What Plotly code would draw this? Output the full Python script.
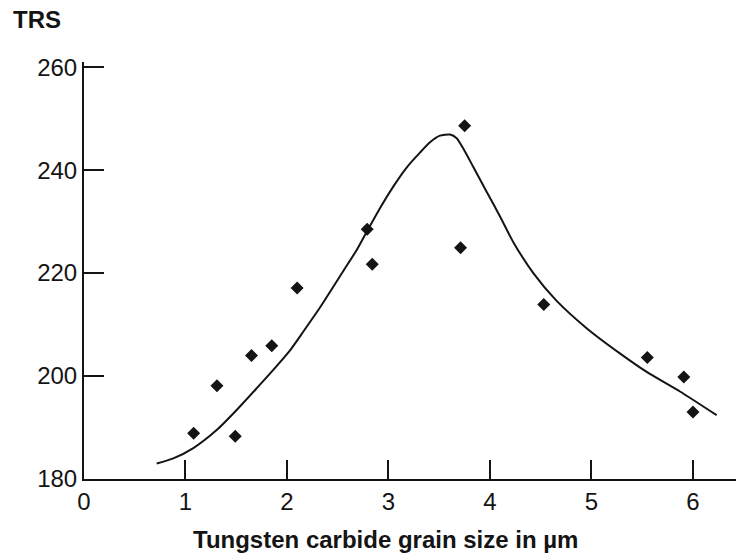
import plotly.graph_objects as go

# Measured data points (grain size in µm, TRS)
pts_x = [1.08, 1.31, 1.49, 1.65, 1.85, 2.10, 2.79, 2.84, 3.75, 3.71, 4.53, 5.55, 5.91, 6.00]
pts_y = [188.9, 198.1, 188.3, 204.0, 205.9, 217.1, 228.5, 221.7, 248.6, 224.9, 213.9, 203.6, 199.8, 193.0]

# Fitted curve
curve_x = [0.716, 0.88, 1.077, 1.307, 1.504, 1.70, 1.865, 2.03, 2.16, 2.325, 2.555, 2.687, 2.785,
           2.916, 3.047, 3.179, 3.31, 3.409, 3.507, 3.606, 3.672, 3.737, 3.836, 3.967, 4.099,
           4.23, 4.427, 4.657, 4.952, 5.28, 5.544, 5.872, 6.233]
curve_y = [183.0, 184.0, 186.0, 189.5, 193.4, 197.6, 201.2, 205.0, 208.6, 213.3, 220.4, 224.5, 228.0,
           232.6, 236.8, 240.5, 243.4, 245.4, 246.7, 246.9, 246.2, 244.2, 240.6, 235.8, 231.0,
           226.0, 220.0, 214.6, 209.3, 204.4, 200.8, 197.0, 192.4]

x_ticks = [0, 1, 2, 3, 4, 5, 6]
y_ticks = [180, 200, 220, 240, 260]

y_title = "TRS"
x_title = "Tungsten carbide grain size in µm"

FONT = "Liberation Sans, Arial, sans-serif"
INK = "#141414"

fig = go.Figure()
fig.add_trace(go.Scatter(x=curve_x, y=curve_y, mode="lines",
                         line=dict(color=INK, width=2, shape="spline", smoothing=0.6),
                         hoverinfo="skip", showlegend=False))
fig.add_trace(go.Scatter(x=pts_x, y=pts_y, mode="markers",
                         marker=dict(symbol="diamond", size=10, color=INK),
                         showlegend=False))

fig.update_layout(
    width=736, height=555,
    margin=dict(l=84, r=0, t=62, b=76),
    paper_bgcolor="white", plot_bgcolor="white",
    font=dict(family=FONT, size=24, color=INK),
    xaxis=dict(range=[0, 6.424], tickvals=x_ticks, ticktext=[str(v) for v in x_ticks],
               showgrid=False, zeroline=False, showline=True, linecolor=INK, linewidth=2,
               ticks="inside", ticklen=19, tickwidth=2, tickcolor=INK,
               tickfont=dict(size=24, color=INK)),
    yaxis=dict(range=[180, 261], tickvals=y_ticks, ticktext=[str(v) for v in y_ticks],
               showgrid=False, zeroline=False, showline=True, linecolor=INK, linewidth=2,
               ticks="inside", ticklen=20, tickwidth=2, tickcolor=INK,
               tickfont=dict(size=24, color=INK)),
    annotations=[
        dict(text="<b>" + y_title + "</b>", xref="paper", yref="paper", x=-0.112, y=1.103,
             xanchor="left", yanchor="middle", showarrow=False,
             font=dict(size=24, color=INK, family=FONT)),
        dict(text="<b>" + x_title + "</b>", xref="paper", yref="paper", x=0.463, y=-0.146,
             xanchor="center", yanchor="middle", showarrow=False,
             font=dict(size=24, color=INK, family=FONT)),
    ],
)

fig.write_html("out.html")
